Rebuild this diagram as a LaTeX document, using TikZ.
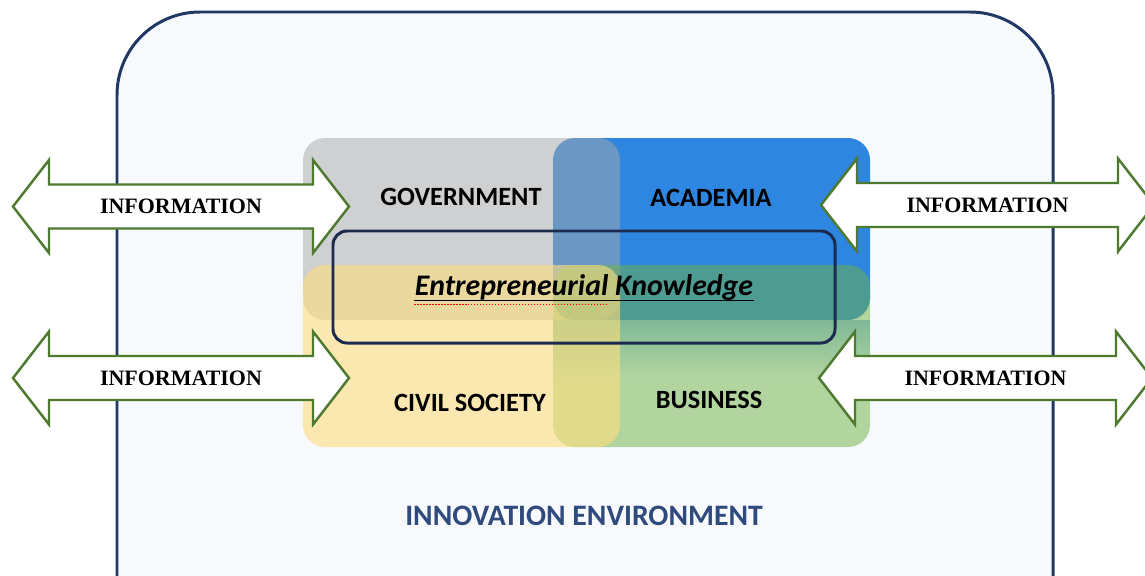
\documentclass[tikz,border=0pt]{standalone}
\usepackage{fontspec}
\setmainfont{Carlito}
\newfontfamily\infofont{Liberation Serif}
\definecolor{envblue}{HTML}{1F3864}
\definecolor{envfill}{HTML}{F7F9FD}
\definecolor{envtext}{HTML}{2F4A7C}
\definecolor{govgray}{HTML}{A9A9A9}
\definecolor{acadblue}{HTML}{2E86E0}
\definecolor{civyellow}{RGB}{255,222,125}
\definecolor{busgreen}{RGB}{111,179,67}
\definecolor{busplain}{RGB}{179,214,160}
\definecolor{busshadow}{RGB}{128,185,150}
\definecolor{kbox}{HTML}{1B2A4E}
\definecolor{arrowgreen}{HTML}{4E7A30}
% block arrow: left tip, right tip, centre y, label name
\newcommand{\infoarrow}[4]{%
  \draw[arrowgreen, fill=white, line width=1.4pt, line join=miter]
    (#1,-#3) -- ({#1+36},{-#3+46.5}) -- ({#1+36},{-#3+22}) -- ({#2-36},{-#3+22})
    -- ({#2-36},{-#3+46.5}) -- (#2,-#3) -- ({#2-36},{-#3-46.5}) -- ({#2-36},{-#3-22})
    -- ({#1+36},{-#3-22}) -- ({#1+36},{-#3-46.5}) -- cycle;
  \node[infolabel] (#4) at ({(#1+#2)/2},-#3) {INFORMATION};}
\begin{document}
\begin{tikzpicture}[x=0.02cm, y=0.02cm,
    sector/.style={rounded corners=0.44cm},
    sectorlabel/.style={font=\bfseries\fontsize{15}{18}\selectfont, inner sep=0pt},
    infolabel/.style={font=\infofont\bfseries\fontsize{12.5}{15}\selectfont, inner sep=0pt}]
	\useasboundingbox (0,0) rectangle (1145,-575);
	% environment
	\draw [envblue, fill=envfill, line width=1.7pt, rounded corners=1.66cm] (117,-12) rectangle (1053,-680);
	% four sectors
	\fill [sector, acadblue] (553,-138) rectangle (870,-320);
	\fill [sector, govgray, fill opacity=0.5] (303,-138) rectangle (620,-320);
	\fill [sector, busgreen, fill opacity=0.5] (553,-265) rectangle (870,-447);
	\begin{scope}
		\clip [sector] (553,-265) rectangle (870,-447);
		\shade [top color=busshadow, bottom color=busplain] (553,-320) rectangle (870,-380);
	\end{scope}
	\fill [sector, civyellow, fill opacity=0.6] (303,-265) rectangle (620,-447);
	\node [sectorlabel] (gov) at (461,-197) {GOVERNMENT};
	\node [sectorlabel] (acad) at (711,-198) {ACADEMIA};
	\node [sectorlabel] (civil) at (470,-403) {CIVIL SOCIETY};
	\node [sectorlabel] (bus) at (709,-400) {BUSINESS};
	% knowledge box
	\draw [kbox, line width=1.7pt, rounded corners=0.28cm] (333,-231) rectangle (835,-343);
	\node [font=\bfseries\itshape\fontsize{17}{20}\selectfont, inner sep=0pt] (know) at (584,-288) {Entrepreneurial Knowledge};
	\draw [line width=0.9pt] ([yshift=-2.5pt]know.base west) -- ([yshift=-2.5pt]know.base east);
	\draw [red, densely dotted, line width=0.7pt] ([yshift=-5pt]know.base west) -- ++(193,0);
	% information flows
	\infoarrow{13}{349}{206.5}{infogov}
	\infoarrow{13}{349}{378}{infocivil}
	\infoarrow{821}{1154}{205}{infoacad}
	\infoarrow{819}{1152}{378}{infobus}
	\node [font=\bfseries\fontsize{16.9}{20}\selectfont, text=envtext, inner sep=0pt] (env) at (584,-516) {INNOVATION ENVIRONMENT};
\end{tikzpicture}
\end{document}
